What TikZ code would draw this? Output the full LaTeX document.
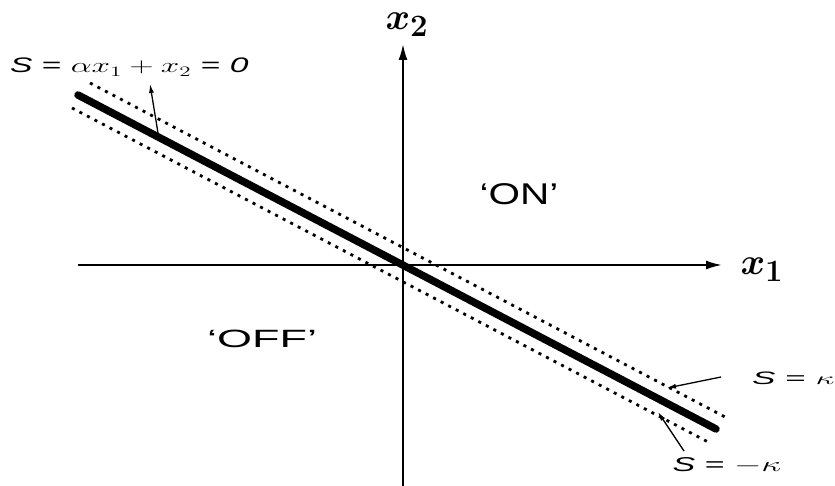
\documentclass[tikz,border=0pt]{standalone}
\usepackage{bm}
\usepackage{fontspec}
\setmainfont{Liberation Sans}
\usetikzlibrary{arrows.meta}
\begin{document}
\begin{tikzpicture}[x=1pt,y=-1pt,
  axis/.style={line width=2pt,-{Latex[length=16pt,width=9pt]}},
  sline/.style={line width=7.5pt,line cap=round},
  bound/.style={line width=2.8pt,dash pattern=on 3pt off 5.5pt},
  pointer/.style={line width=1.3pt,-{Latex[length=9pt,width=5pt]}},
  lab/.style={inner sep=0pt},
  axlab/.style={inner sep=0pt,font=\fontsize{24.88}{30}\selectfont}]
\useasboundingbox (0,0) rectangle (835,486);
\fill[white] (0,0) rectangle (835,486);
% axes
\coordinate (O) at (403,265);
\coordinate (xl) at (78,265);
\coordinate (xr) at (722,265);
\coordinate (yb) at (403,486);
\coordinate (yt) at (403,44);
\draw[axis] (xl) -- (xr);
\draw[axis] (yb) -- (yt);
% switching line and boundary layer
\coordinate (sa) at (78,95);
\coordinate (sb) at (716,429);
\coordinate (ua) at (90,83);
\coordinate (ub) at (727,418);
\coordinate (la) at (72,108);
\coordinate (lb) at (710,443);
\draw[bound] (ua) -- (ub);
\draw[bound] (la) -- (lb);
\draw[sline] (sa) -- (sb);
% labels
\node[lab,anchor=base west,font=\fontsize{21}{24}\selectfont] (lS) at (10,73)
  {\scalebox{1.6}[1]{{\itshape S} = $\alpha x_1 + x_2$ = {\itshape 0}}};
\node[axlab] (lx2) at (407,25) {\scalebox{1.5}{$\bm{x}_{\bm{2}}$}};
\node[axlab] (lx1) at (762,270) {\scalebox{1.5}{$\bm{x}_{\bm{1}}$}};
\node[lab,font=\fontsize{30}{34}\selectfont] (on) at (519,194) {\scalebox{1.35}[1]{‘ON’}};
\node[lab,font=\fontsize{25}{30}\selectfont] (off) at (262,339) {\scalebox{1.8}[1]{‘OFF’}};
\node[lab,anchor=west,font=\fontsize{18}{22}\selectfont] (lk) at (752,378) {\scalebox{1.95}[1]{{\itshape S} = $\kappa$}};
\node[lab,font=\fontsize{20}{24}\selectfont] (lmk) at (727,465) {\scalebox{1.7}[1]{{\itshape S} = $-\kappa$}};
% pointers
\coordinate (p0) at (158,133);
\coordinate (p0t) at (150,84);
\draw[pointer] (p0) -- (p0t);
\coordinate (pk) at (721,377);
\coordinate (pkt) at (667,388);
\draw[pointer] (pk) -- (pkt);
\coordinate (pm) at (684,451);
\coordinate (pmt) at (658,412);
\draw[pointer] (pm) -- (pmt);
\end{tikzpicture}
\end{document}
